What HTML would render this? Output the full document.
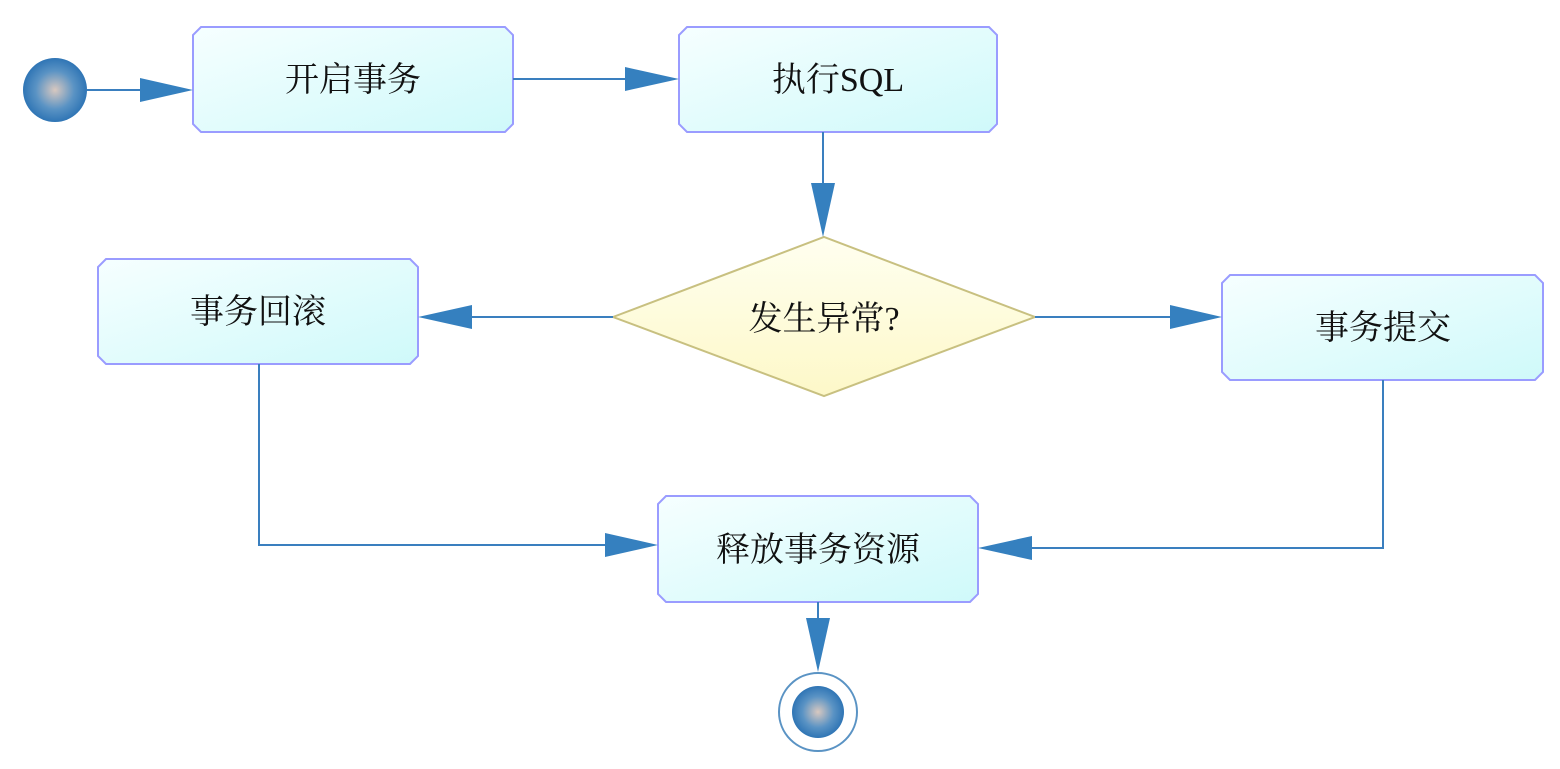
<!DOCTYPE html>
<html><head><meta charset="utf-8"><style>
html,body{margin:0;padding:0;background:#fff;}
svg text{font-family:"Liberation Serif","Noto Serif CJK SC",serif;font-size:34px;fill:#111;}
</style></head><body>
<svg width="1560" height="764" viewBox="0 0 1560 764" xmlns="http://www.w3.org/2000/svg">
<defs>
<linearGradient id="bx" x1="0" y1="0" x2="1" y2="1">
<stop offset="0" stop-color="#f6ffff"/><stop offset="1" stop-color="#cff9fa"/></linearGradient>
<linearGradient id="dm" x1="0" y1="0" x2="0" y2="1">
<stop offset="0" stop-color="#fffff0"/><stop offset="1" stop-color="#fdf8c8"/></linearGradient>
<radialGradient id="ball" cx="0.5" cy="0.5" r="0.5">
<stop offset="0" stop-color="#d8c8c0"/><stop offset="0.6" stop-color="#5a93c4"/><stop offset="1" stop-color="#2f75b5"/></radialGradient>
</defs>
<g fill="url(#bx)" stroke="#9a9cff" stroke-width="2">
<path d="M201,27 H505 L513,35 V124 L505,132 H201 L193,124 V35 Z"/>
<path d="M687,27 H989 L997,35 V124 L989,132 H687 L679,124 V35 Z"/>
<path d="M106,259 H410 L418,267 V356 L410,364 H106 L98,356 V267 Z"/>
<path d="M1230,275 H1535 L1543,283 V372 L1535,380 H1230 L1222,372 V283 Z"/>
<path d="M666,496 H970 L978,504 V594 L970,602 H666 L658,594 V504 Z"/>
</g>
<path d="M613,317 L824,237 L1035,317 L824,396 Z" fill="url(#dm)" stroke="#c8c080" stroke-width="2"/>
<circle cx="55" cy="90" r="32" fill="url(#ball)"/>
<circle cx="818" cy="712" r="39" fill="#fff" stroke="#5a93c4" stroke-width="2"/>
<circle cx="818" cy="712" r="26" fill="url(#ball)"/>
<g stroke="#3a7fbf" stroke-width="2" fill="none">
<path d="M87,90 H150"/>
<path d="M513,79 H630"/>
<path d="M823,132 V190"/>
<path d="M613,317 H465"/>
<path d="M1035,317 H1175"/>
<path d="M259,364 V545 H610"/>
<path d="M1383,380 V548 H1025"/>
<path d="M818,602 V625"/>
</g>
<g fill="#3580bf">
<path d="M140,78 L193,90 L140,102 Z"/>
<path d="M625,67 L679,79 L625,91 Z"/>
<path d="M811,183 L823,237 L835,183 Z"/>
<path d="M472,305 L418,317 L472,329 Z"/>
<path d="M1170,305 L1222,317 L1170,329 Z"/>
<path d="M605,533 L658,545 L605,557 Z"/>
<path d="M1032,536 L978,548 L1032,560 Z"/>
<path d="M806,618 L818,672 L830,618 Z"/>
</g>
<g text-anchor="middle">
<text x="353" y="91">开启事务</text>
<text x="838" y="91">执行SQL</text>
<text x="258" y="323">事务回滚</text>
<text x="1383" y="339">事务提交</text>
<text x="818" y="561">释放事务资源</text>
<text x="824" y="330">发生异常?</text>
</g>
</svg>
</body></html>
